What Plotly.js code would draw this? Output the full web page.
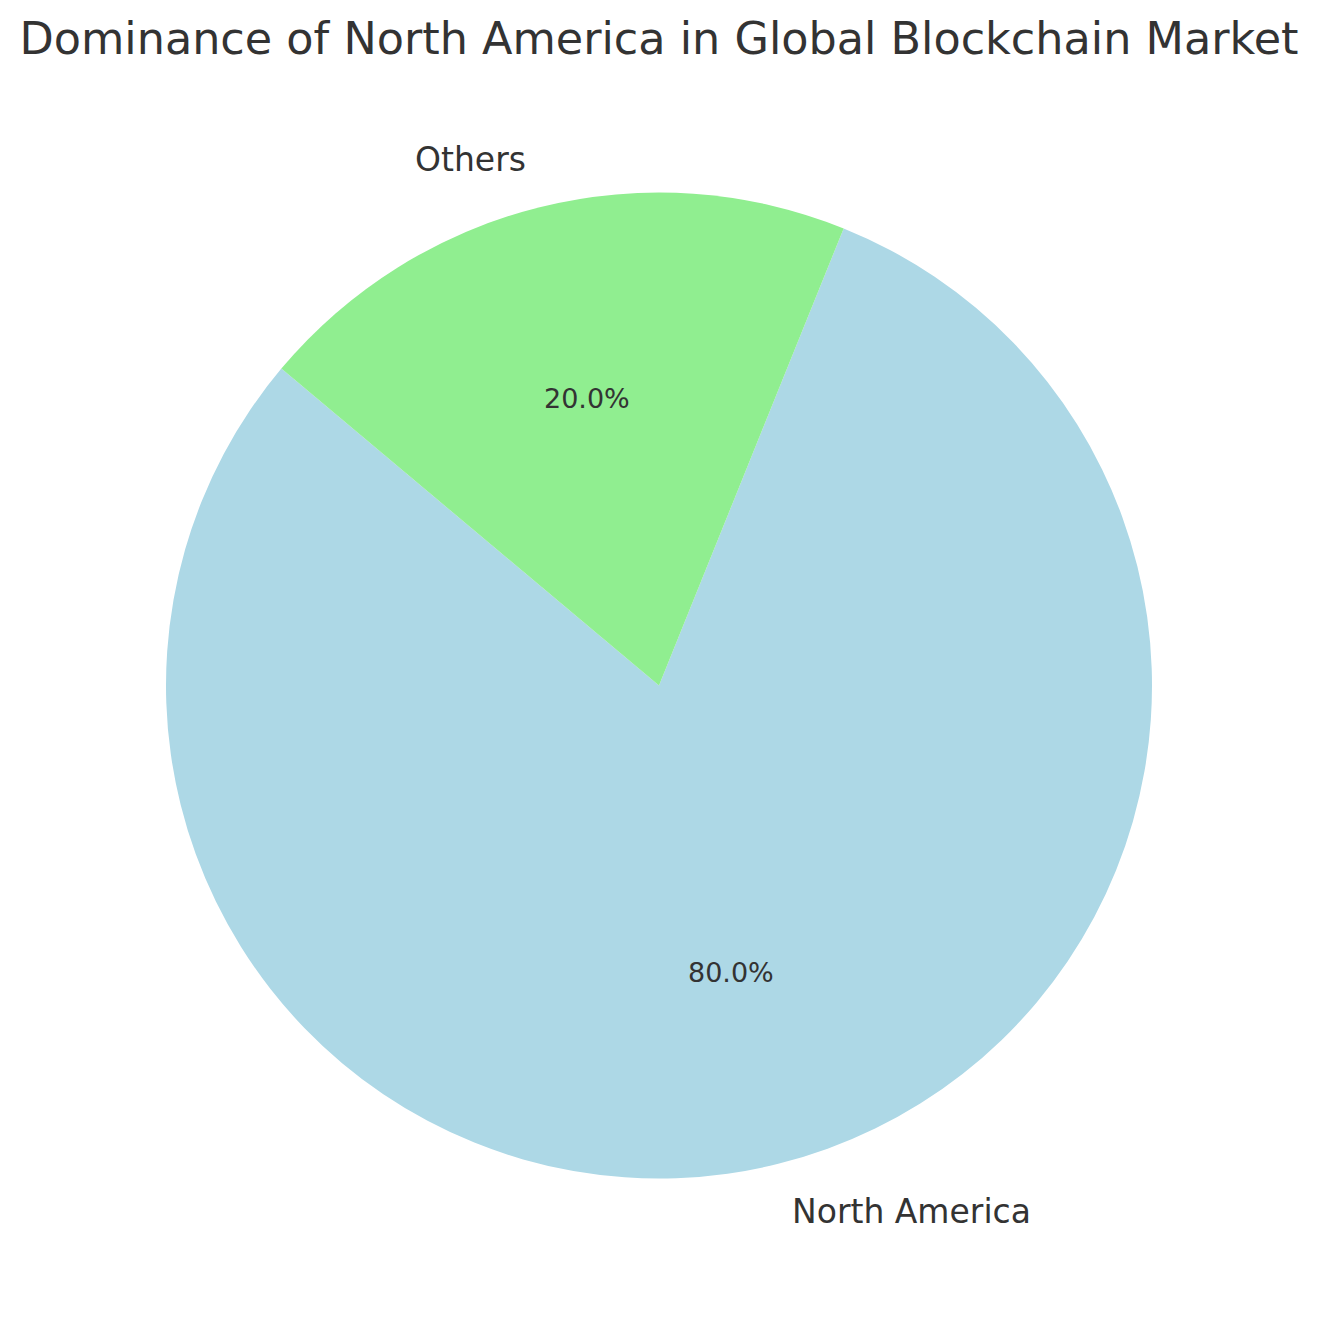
<!DOCTYPE html>
<html>
<head>
<meta charset="utf-8">
<script src="https://cdn.plot.ly/plotly-3.0.1.min.js"></script>
<style>html,body{margin:0;padding:0;background:#fff;}#chart{width:1318px;height:1322px;}</style>
</head>
<body>
<div id="chart"></div>
<script>
const labels = ["North America", "Others"];
const values = [80, 20];
const colors = ["#ADD8E6", "#90EE90"];
const chartTitle = "Dominance of North America in Global Blockchain Market";

const W = 1318, H = 1322;
const cx = 659, cy = 685.5, R = 493;
const startAngle = 140; // degrees, counterclockwise from +x axis
const FONT = "DejaVu Sans, sans-serif";
const TXT = "#333333";

const total = values.reduce((a, b) => a + b, 0);
const annotations = [];
let a0 = startAngle;
values.forEach((v, i) => {
  const frac = v / total;
  const mid = (a0 + frac * 180) * Math.PI / 180;
  a0 += frac * 360;
  const c = Math.cos(mid), s = Math.sin(mid);
  const lx = cx + 1.1 * R * c, ly = cy - 1.1 * R * s;
  annotations.push({
    x: lx / W, y: 1 - ly / H, xref: "paper", yref: "paper",
    text: labels[i], showarrow: false,
    xanchor: c < 0 ? "right" : "left", yanchor: "middle",
    font: {family: FONT, size: 33, color: TXT}
  });
  const px = cx + 0.6 * R * c, py = cy - 0.6 * R * s;
  annotations.push({
    x: px / W, y: 1 - py / H, xref: "paper", yref: "paper",
    text: (frac * 100).toFixed(1) + "%", showarrow: false,
    xanchor: "center", yanchor: "middle",
    font: {family: FONT, size: 27, color: TXT}
  });
});

const trace = {
  type: "pie",
  labels: labels,
  values: values,
  marker: {colors: colors, line: {width: 0}},
  sort: false,
  direction: "counterclockwise",
  rotation: 22,
  textinfo: "none",
  hoverinfo: "label+percent",
  showlegend: false,
  domain: {
    x: [(cx - R) / W, (cx + R) / W],
    y: [1 - (cy + R) / H, 1 - (cy - R) / H]
  }
};

const layout = {
  width: W, height: H,
  margin: {l: 0, r: 0, t: 0, b: 0},
  paper_bgcolor: "#ffffff",
  showlegend: false,
  title: {
    text: chartTitle,
    x: 0.5, xanchor: "center",
    y: 1 - 38 / H, yanchor: "middle", yref: "paper",
    font: {family: FONT, size: 44.5, color: TXT}
  },
  annotations: annotations
};

Plotly.newPlot("chart", [trace], layout, {staticPlot: true});
</script>
</body>
</html>
